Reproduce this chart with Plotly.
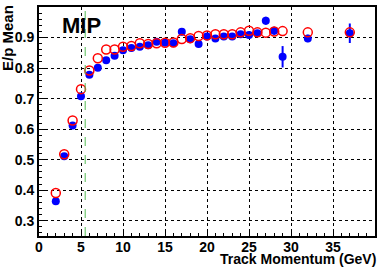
import plotly.graph_objects as go

momentum = [2, 3, 4, 5, 6, 7, 8, 9, 10, 11, 12, 13, 14, 15, 16, 17, 18, 19, 20,
            21, 22, 23, 24, 25, 26, 27, 28, 29, 32, 37]
blue_mean = [0.364, 0.511, 0.612, 0.708, 0.778, 0.801, 0.826, 0.840, 0.858, 0.866,
             0.870, 0.875, 0.886, 0.883, 0.881, 0.919, 0.894, 0.879, 0.903, 0.897,
             0.903, 0.903, 0.911, 0.908, 0.914, 0.955, 0.922, 0.837, 0.897, 0.914]
blue_err = [0.003, 0.003, 0.003, 0.003, 0.003, 0.003, 0.004, 0.004, 0.004, 0.004,
            0.005, 0.005, 0.005, 0.006, 0.008, 0.012, 0.009, 0.006, 0.006, 0.006,
            0.007, 0.007, 0.008, 0.010, 0.008, 0.013, 0.013, 0.035, 0.012, 0.032]
red_mean = [0.391, 0.518, 0.628, 0.731, 0.792, 0.832, 0.861, 0.861, 0.870, 0.872,
            0.881, 0.879, 0.881, 0.883, 0.884, 0.895, 0.898, 0.905, 0.907, 0.911,
            0.911, 0.911, 0.917, 0.922, 0.917, 0.916, 0.920, 0.921, 0.917, 0.917]
cut_momentum = 5.5

x_tickvals = [0, 5, 10, 15, 20, 25, 30, 35, 40]
x_ticklabels = ["0", "5", "10", "15", "20", "25", "30", "35", "40"]
y_tickvals = [0.3, 0.4, 0.5, 0.6, 0.7, 0.8, 0.9, 1.0]
y_ticklabels = ["0.3", "0.4", "0.5", "0.6", "0.7", "0.8", "0.9", "1"]

FONT = "Liberation Sans"

fig = go.Figure()
fig.add_trace(go.Scatter(
    x=momentum, y=blue_mean, mode="markers",
    marker=dict(symbol="circle", size=8, color="#0000ff", line=dict(width=0)),
    error_y=dict(type="data", array=blue_err, color="#0000ff", thickness=2, width=0),
    showlegend=False))
fig.add_trace(go.Scatter(
    x=momentum, y=red_mean, mode="markers",
    marker=dict(symbol="circle-open", size=9, color="#ff0000", line=dict(width=1.5)),
    showlegend=False))

fig.add_shape(type="line", x0=cut_momentum, x1=cut_momentum, y0=0.25, y1=1.0,
              xref="x", yref="y", line=dict(color="#55bb55", width=1, dash="dash"))

axis_common = dict(
    showline=True, linecolor="black", linewidth=2, mirror=True,
    ticks="inside", tickcolor="black", tickwidth=1,
    showgrid=True, gridcolor="black", griddash="dot", gridwidth=1,
    zeroline=False, automargin=False,
    tickfont=dict(family=FONT, size=14, color="black"),
)

fig.update_xaxes(range=[0, 40], tickmode="array", tickvals=x_tickvals,
                 ticktext=["<b>%s</b>" % t for t in x_ticklabels], ticklen=6,
                 ticklabelstandoff=-3,
                 minor=dict(ticks="inside", dtick=1, tick0=0, ticklen=3, tickcolor="black", showgrid=False),
                 **axis_common)
fig.update_yaxes(range=[0.25, 1.0], tickmode="array", tickvals=y_tickvals,
                 ticktext=["<b>%s</b>" % t for t in y_ticklabels], ticklen=6,
                 minor=dict(ticks="inside", dtick=0.02, tick0=0.3, ticklen=3, tickcolor="black", showgrid=False),
                 **axis_common)

fig.add_annotation(text="<b>MIP</b>", xref="paper", yref="paper", x=0.062, y=0.921,
                   xanchor="left", yanchor="middle", showarrow=False,
                   font=dict(family=FONT, size=22, color="black"))
fig.add_annotation(text="<b>E/p Mean</b>", xref="paper", yref="paper", x=-0.092, y=1.018,
                   xanchor="center", yanchor="top", textangle=-90, showarrow=False,
                   font=dict(family=FONT, size=15, color="black"))
fig.add_annotation(text="<b>Track Momentum (GeV)</b>", xref="paper", yref="paper", x=1.01, y=-0.102,
                   xanchor="right", yanchor="middle", showarrow=False,
                   font=dict(family=FONT, size=14, color="black"))

fig.update_layout(
    width=382, height=268,
    margin=dict(l=39, r=7, t=7, b=32, autoexpand=False),
    paper_bgcolor="white", plot_bgcolor="white",
)

fig.write_html("out.html", config={"displayModeBar": False},
               post_script="document.body.style.margin='0';document.body.style.padding='0';")
